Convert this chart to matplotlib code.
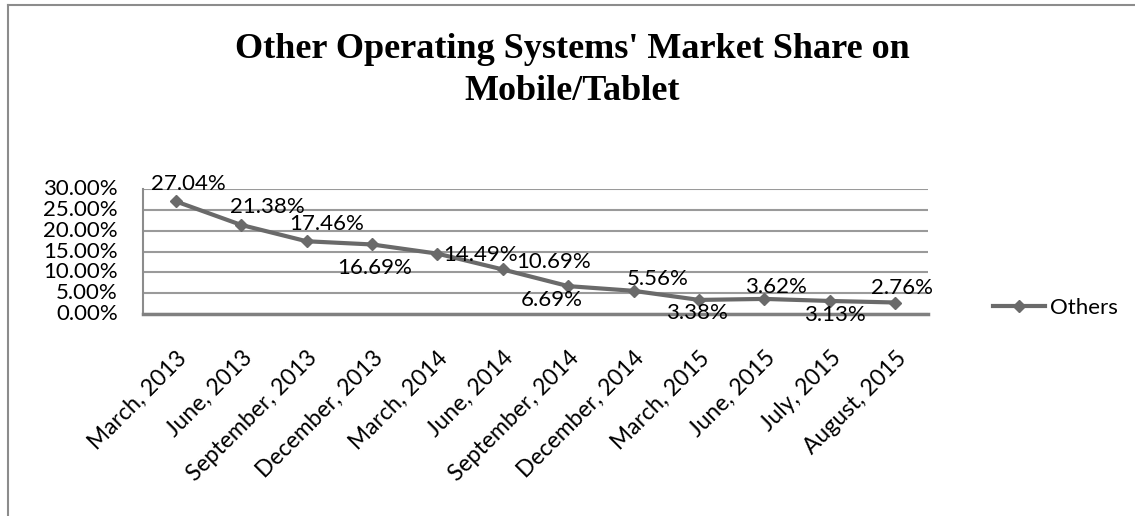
import matplotlib
matplotlib.use("Agg")
import matplotlib.pyplot as plt
from matplotlib.lines import Line2D
from matplotlib.ticker import FuncFormatter, MultipleLocator

categories = ["March, 2013", "June, 2013", "September, 2013", "December, 2013",
              "March, 2014", "June, 2014", "September, 2014", "December, 2014",
              "March, 2015", "June, 2015", "July, 2015", "August, 2015"]
values = [27.04, 21.38, 17.46, 16.69, 14.49, 10.69, 6.69, 5.56, 3.38, 3.62, 3.13, 2.76]
label_offsets = [(13, 17), (26, 18), (20, 17), (3, -24), (43, -1), (51, 7),
                 (-16, -14), (24, 12), (-2, -13), (11, 12), (5, -14), (7, 15)]
series_name = "Others"
title = "Other Operating Systems' Market Share on\nMobile/Tablet"

W, H = 1135, 516
fig = plt.figure(figsize=(W / 100, H / 100), dpi=100)
fig.patch.set_facecolor("white")

font = "Lato"
line_color = "#6a6a6a"
grid_color = "#9a9a9a"

# outer chart border
fig.add_artist(Line2D([7.5 / W, 7.5 / W], [0, 1 - 5 / H], transform=fig.transFigure,
                      color="#8c8c8c", lw=1.5))
fig.add_artist(Line2D([7.5 / W, 1], [1 - 5 / H, 1 - 5 / H], transform=fig.transFigure,
                      color="#8c8c8c", lw=1.5))

left, right, top, bottom = 143, 928, 189, 314
ax = fig.add_axes([left / W, 1 - bottom / H, (right - left) / W, (bottom - top) / H])

x = list(range(len(categories)))
ax.plot(x, values, color=line_color, lw=3, marker="D", ms=6,
        markerfacecolor=line_color, markeredgecolor=line_color, label=series_name,
        zorder=3)

ax.set_xlim(-0.5, len(categories) - 0.5)
ax.set_ylim(0, 30)
ax.yaxis.set_major_locator(MultipleLocator(5))
ax.yaxis.set_major_formatter(FuncFormatter(lambda v, p: f"{v:.2f}%"))
ax.grid(axis="y", color=grid_color, lw=1.5)
ax.set_axisbelow(True)

for s in ["top", "right"]:
    ax.spines[s].set_visible(False)
ax.spines["left"].set_color("#8c8c8c")
ax.spines["left"].set_linewidth(1.5)
ax.spines["bottom"].set_color("#808080")
ax.spines["bottom"].set_linewidth(2.5)

ax.set_xticks(x)
ax.set_xticklabels(categories, rotation=45, ha="right", rotation_mode="anchor",
                   fontsize=16.5, family=font)
ax.tick_params(axis="x", length=0, pad=24)
ax.tick_params(axis="y", length=0, pad=18, labelsize=16)
for t in ax.get_yticklabels():
    t.set_family(font)
    t.set_verticalalignment("center")

for xi, v, (dx, dy) in zip(x, values, label_offsets):
    ax.annotate(f"{v:.2f}%", (xi, v), xytext=(dx, dy), textcoords="offset pixels",
                ha="center", va="center", fontsize=16, family=font, color="black",
                zorder=4)

leg = ax.legend(loc="center left", bbox_to_anchor=(1.072, 0.05), frameon=False,
                prop={"family": font, "size": 16}, handlelength=2.3,
                handletextpad=0.25, borderaxespad=0)

fig.text(572 / W, 1 - 71 / H, title, ha="center", va="center", fontsize=26,
         fontweight="bold", family="Liberation Serif", linespacing=1.36)

fig.savefig("out.png", dpi=100)
